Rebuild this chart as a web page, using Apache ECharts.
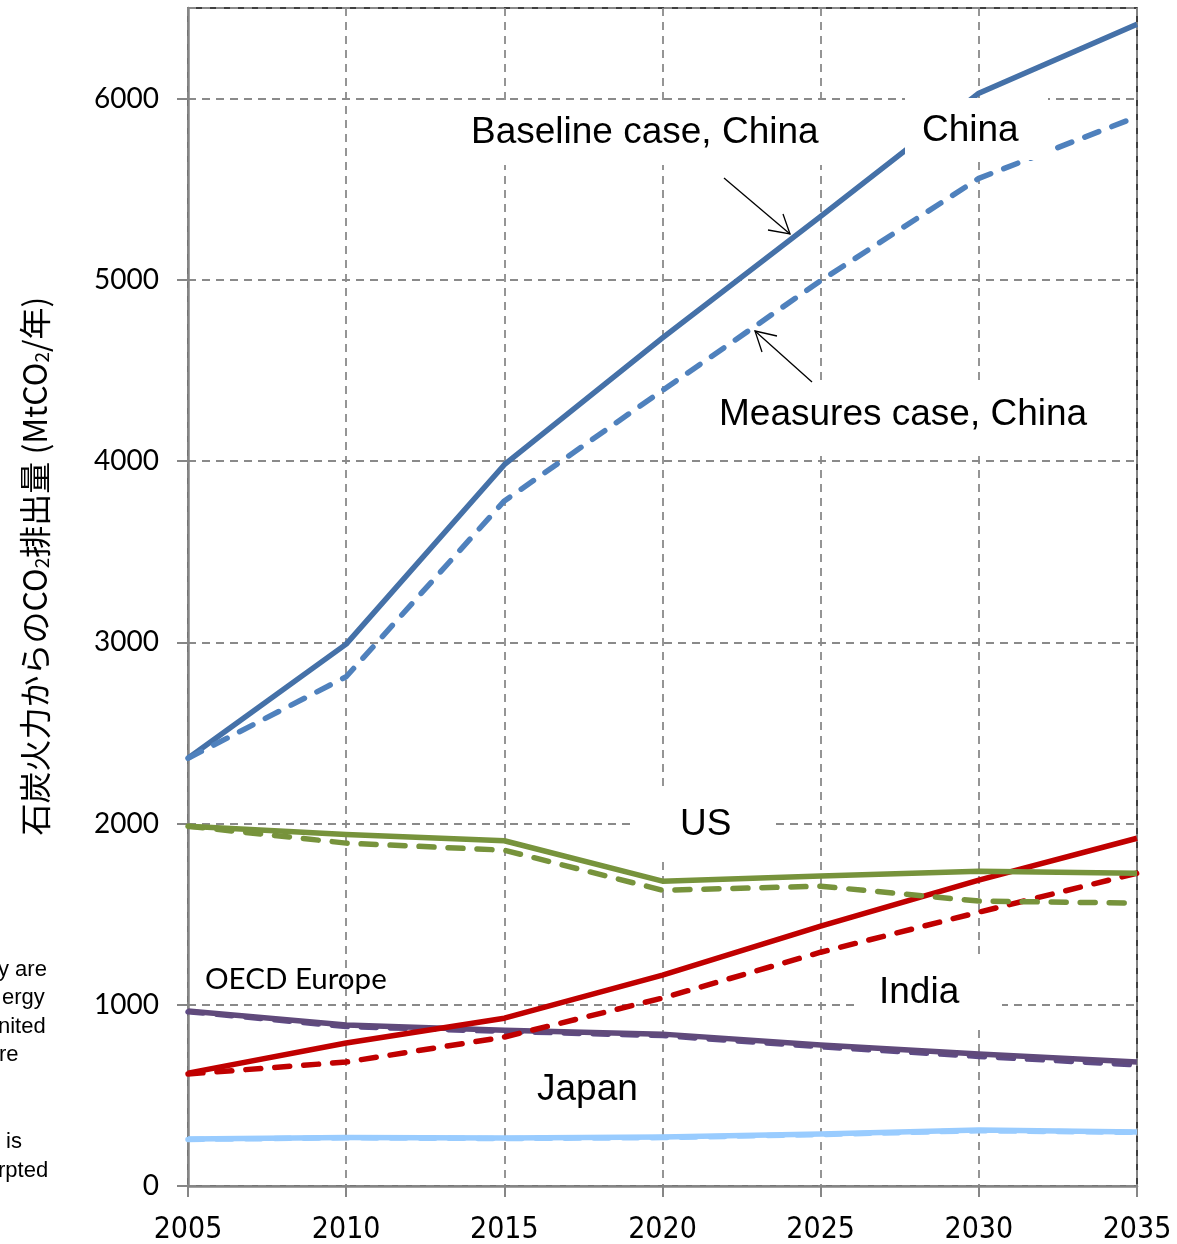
<!DOCTYPE html>
<html>
<head>
<meta charset="utf-8">
<script src="https://cdn.jsdelivr.net/npm/echarts@6/dist/echarts.min.js"></script>
<style>
html,body{margin:0;padding:0;background:#fff;}
#main{width:1177px;height:1244px;}
</style>
</head>
<body>
<div id="main"></div>
<script>
// years on the x axis
var years = [2005, 2010, 2015, 2020, 2025, 2030, 2035];
// MtCO2 per year
var chinaBase = [2360, 2990, 3980, 4680, 5350, 6030, 6410];
var chinaMeas = [2360, 2810, 3780, 4390, 4995, 5560, 5900];
var usBase = [1985, 1940, 1905, 1682, 1710, 1737, 1726];
var usMeas = [1985, 1892, 1853, 1632, 1654, 1572, 1561];
var indiaBase = [623, 789, 926, 1164, 1434, 1688, 1919];
var indiaMeas = [618, 684, 822, 1037, 1290, 1511, 1726];
var euBase = [965, 888, 860, 838, 778, 728, 684];
var euMeas = [962, 880, 853, 830, 768, 715, 668];
var japanBase = [259, 268, 265, 270, 287, 309, 298];
var japanMeas = [257, 266, 262, 267, 284, 305, 296];
var yTicks = [0, 1000, 2000, 3000, 4000, 5000, 6000];

function pairs(arr){
	var out = [];
	for(var i=0;i<years.length;i++){
		out.push([years[i], arr[i]]);
	}
	return out;
}

function mkLine(name, arr, color, dashed, z){
	return {
		name: name,
		type: 'line',
		data: pairs(arr),
		symbol: 'none',
		z: z,
		silent: true,
		lineStyle: {
			color: color,
			width: 5.5,
			type: dashed ? [15, 14] : 'solid',
			cap: dashed ? 'round' : 'butt',
			join: 'round'
		}
	};
}

var chart = echarts.init(document.getElementById("main"));

var labelFont = '"Liberation Sans", Arial, sans-serif';
function boxText(txt, x, y, w, h, tx, ty){
	return [{
		type: 'rect',
		z: 100,
		shape: {x: x, y: y, width: w, height: h},
		style: {fill: '#fff'}
	},{
		type: 'text',
		z: 101,
		x: tx, y: ty,
		style: {text: txt, font: '37px ' + labelFont, fill: '#000', textVerticalAlign: 'middle'}
	}];
}

var graphics = [];
graphics = graphics.concat(boxText('Baseline case, China', 455, 100, 385, 65, 471, 133));
graphics = graphics.concat(boxText('China', 905, 98, 143, 62, 922, 131));
graphics = graphics.concat(boxText('Measures case, China', 700, 382, 400, 74, 719, 415));
graphics = graphics.concat(boxText('US', 636, 790, 134, 72, 680, 825));
graphics = graphics.concat(boxText('India', 857, 958, 145, 66, 879, 993));
graphics.push({
	type: 'text', z: 101, x: 537, y: 1090,
	style: {text: 'Japan', font: '37px ' + labelFont, fill: '#000', textVerticalAlign: 'middle'}
});
graphics.push({
	type: 'text', z: 101, x: 205, y: 979,
	style: {text: 'OECD Europe', font: '29.5px Lato, "Open Sans", sans-serif', fill: '#000', textVerticalAlign: 'middle'}
});
// arrows
graphics.push({type: 'line', z: 102, shape: {x1: 724, y1: 178, x2: 790, y2: 234}, style: {stroke: '#000', lineWidth: 1.3}});
graphics.push({type: 'polyline', z: 102, shape: {points: [[768, 230], [790, 234], [783, 214]]}, style: {stroke: '#000', lineWidth: 1.3, fill: null}});
graphics.push({type: 'line', z: 102, shape: {x1: 812, y1: 382, x2: 755, y2: 331}, style: {stroke: '#000', lineWidth: 1.3}});
graphics.push({type: 'polyline', z: 102, shape: {points: [[777, 336], [755, 331], [762, 352]]}, style: {stroke: '#000', lineWidth: 1.3, fill: null}});
// clipped text box on the far left
var leftBits = [['y are', -2, 970], ['ergy', 2, 998], ['nited', -2, 1027], ['re', -1, 1055], ['is', 6, 1142], ['rpted', -2, 1171]];
for(var i=0;i<leftBits.length;i++){
	graphics.push({
		type: 'text', z: 101, x: leftBits[i][1], y: leftBits[i][2],
		style: {text: leftBits[i][0], font: '22px ' + labelFont, fill: '#000', textVerticalAlign: 'middle'}
	});
}
// y axis name (rotated)
graphics.push({
	type: 'text', z: 101, x: 32, y: 566, rotation: Math.PI / 2,
	style: {
		text: '{a|石炭火力からのCO}{s|2}{a|排出量 (MtCO}{s|2}{a|/年)}',
		align: 'center', verticalAlign: 'middle',
		rich: {
			a: {fontSize: 32, fontFamily: '"Noto Sans CJK JP", sans-serif', fill: '#000', lineHeight: 38, verticalAlign: 'bottom'},
			s: {fontSize: 19, fontFamily: '"Noto Sans CJK JP", sans-serif', fill: '#000', lineHeight: 32, verticalAlign: 'bottom'}
		}
	}
});

option = {
	animation: false,
	backgroundColor: '#fff',
	grid: {
		left: 188, right: 40, top: 8, bottom: 58,
		outerBoundsMode: 'none',
		containLabel: false,
		show: true,
		borderColor: '#000',
		borderWidth: 1.5
	},
	xAxis: {
		type: 'value',
		min: 2005, max: 2035, interval: 5,
		axisLine: {show: true, lineStyle: {color: '#868686', width: 2.5}},
		axisTick: {show: true, length: 11, lineStyle: {color: '#868686', width: 2}},
		axisLabel: {
			margin: 29,
			fontSize: 30,
			fontFamily: '"Liberation Sans Narrow", "DejaVu Sans Condensed", sans-serif',
			color: '#000',
			formatter: function(v){ return String(v); }
		},
		splitLine: {show: true, lineStyle: {color: '#8a8a8a', width: 1.8, type: [8, 6]}}
	},
	yAxis: {
		type: 'value',
		min: 0, max: 6500, interval: 1000,
		axisLine: {show: true, lineStyle: {color: '#868686', width: 2.5}},
		axisTick: {show: true, length: 11, lineStyle: {color: '#868686', width: 2}},
		axisLabel: {
			margin: 29,
			fontSize: 28,
			fontFamily: 'Lato, "Open Sans", sans-serif',
			color: '#000',
			showMaxLabel: false,
			formatter: function(v){ return yTicks.indexOf(v) >= 0 ? String(v) : ''; }
		},
		splitLine: {show: true, lineStyle: {color: '#8a8a8a', width: 1.8, type: [8, 6]}}
	},
	series: [
		mkLine('Japan measures', japanMeas, '#99CCFF', true, 2),
		mkLine('Japan baseline', japanBase, '#99CCFF', false, 3),
		mkLine('OECD Europe measures', euMeas, '#5E4B86', true, 4),
		mkLine('OECD Europe baseline', euBase, '#604A7B', false, 4),
		mkLine('India baseline', indiaBase, '#C00000', false, 5),
		mkLine('India measures', indiaMeas, '#C00000', true, 5),
		mkLine('US measures', usMeas, '#77933C', true, 6),
		mkLine('US baseline', usBase, '#77933C', false, 6),
		mkLine('China baseline', chinaBase, '#4571A8', false, 7),
		mkLine('China measures', chinaMeas, '#4F81BD', true, 7)
	],
	graphic: graphics
};
chart.setOption(option);
</script>
</body>
</html>
